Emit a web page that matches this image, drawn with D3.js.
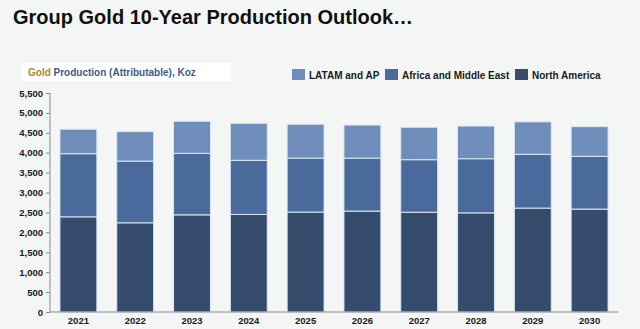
<!DOCTYPE html>
<html>
<head>
<meta charset="utf-8">
<script src="https://cdn.jsdelivr.net/npm/d3@7"></script>
<style>
  body { margin: 0; background: #f4f6f6; }
  svg { display: block; font-family: "Liberation Sans", Arial, sans-serif; }
</style>
</head>
<body>
<div id="chart"></div>
<script>
// production outlook, koz attributable
var years = ["2021", "2022", "2023", "2024", "2025", "2026", "2027", "2028", "2029", "2030"];
var northAmerica = [2390, 2240, 2440, 2450, 2510, 2535, 2505, 2490, 2610, 2585];
var africaME = [1585, 1550, 1545, 1360, 1355, 1330, 1320, 1360, 1350, 1325];
var latamAP = [615, 740, 805, 930, 850, 830, 815, 820, 815, 745];
var seriesNames = ["North America", "Africa and Middle East", "LATAM and AP"];
var legendOrder = ["LATAM and AP", "Africa and Middle East", "North America"];
var yTicks = [0, 500, 1000, 1500, 2000, 2500, 3000, 3500, 4000, 4500, 5000, 5500];

var width = 640, height = 329;
var colors = {
  "North America": "#364c6d",
  "Africa and Middle East": "#4a6a9b",
  "LATAM and AP": "#6f8dbb"
};

var rows = years.map(function (y, i) {
  return { year: y, "North America": northAmerica[i], "Africa and Middle East": africaME[i], "LATAM and AP": latamAP[i] };
});

var svg = d3.select("#chart").append("svg")
  .attr("width", width)
  .attr("height", height);

svg.append("rect").attr("width", width).attr("height", height).attr("fill", "#f4f6f6");

// title
svg.append("text")
  .attr("x", 13).attr("y", 24)
  .attr("font-size", 20).attr("font-weight", "bold")
  .attr("fill", "#111")
  .text("Group Gold 10-Year Production Outlook…");

// subtitle box
svg.append("rect")
  .attr("x", 21).attr("y", 63).attr("width", 210).attr("height", 18)
  .attr("fill", "#ffffff");
var sub = svg.append("text")
  .attr("x", 28).attr("y", 76)
  .attr("font-size", 10).attr("font-weight", "bold");
sub.append("tspan").attr("fill", "#a38c2f").text("Gold");
sub.append("tspan").attr("fill", "#3f5b86").text(" Production (Attributable), Koz");

var x = d3.scaleBand().domain(years).range([50, 618]).paddingInner(0.35).paddingOuter(0.175);
var y = d3.scaleLinear().domain([0, 5500]).range([312, 93]);

var stack = d3.stack().keys(seriesNames);
var layers = stack(rows);

svg.append("g").selectAll("g")
  .data(layers)
  .enter().append("g")
  .attr("fill", function (d) { return colors[d.key]; })
  .selectAll("rect")
  .data(function (d) { return d; })
  .enter().append("rect")
  .attr("x", function (d) { return x(d.data.year); })
  .attr("y", function (d) { return y(d[1]); })
  .attr("width", x.bandwidth())
  .attr("height", function (d) { return y(d[0]) - y(d[1]); })
  .attr("stroke", "#dce6f2")
  .attr("stroke-width", 1);

// axes
var yAxis = svg.append("g")
  .attr("transform", "translate(50,0)")
  .call(d3.axisLeft(y).tickValues(yTicks).tickSize(4).tickFormat(d3.format(",")));
var xAxis = svg.append("g")
  .attr("transform", "translate(0,312)")
  .call(d3.axisBottom(x).tickSize(0).tickPadding(5));

[yAxis, xAxis].forEach(function (a) {
  a.select(".domain").attr("stroke", "#8a8a8a");
  a.selectAll(".tick line").attr("stroke", "#8a8a8a");
  a.selectAll("text")
    .attr("font-family", "Liberation Sans, Arial, sans-serif")
    .attr("font-size", 9.5).attr("font-weight", "bold").attr("fill", "#1a1a1a");
});
yAxis.select(".domain").attr("d", "M0,312V93");
xAxis.select(".domain").attr("d", "M50,0H618");

// legend
var legendX = [292, 385, 515];
var legend = svg.append("g").selectAll("g")
  .data(legendOrder)
  .enter().append("g")
  .attr("transform", function (d, i) { return "translate(" + legendX[i] + ",69)"; });
legend.append("rect")
  .attr("width", 13).attr("height", 11)
  .attr("fill", function (d) { return colors[d]; });
legend.append("text")
  .attr("x", 17).attr("y", 9.5)
  .attr("font-size", 10).attr("font-weight", "bold").attr("fill", "#1a1a1a")
  .text(function (d) { return d; });
</script>
</body>
</html>
